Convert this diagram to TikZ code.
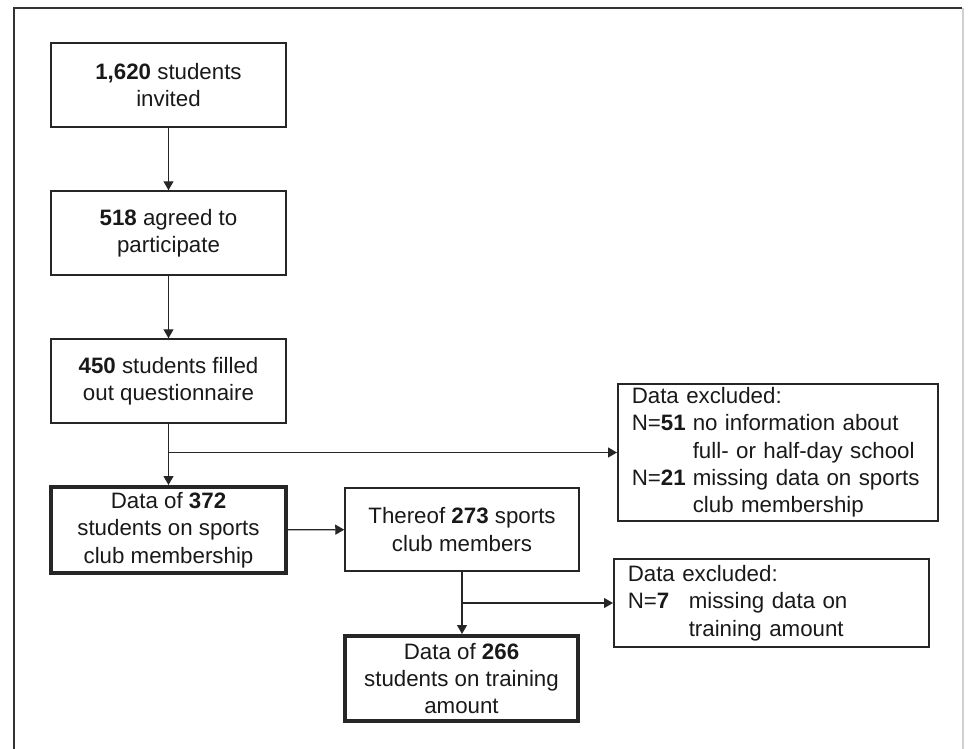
\documentclass[tikz,border=0pt]{standalone}
\usepackage{fontspec}
\setmainfont{Liberation Sans}
\usetikzlibrary{arrows.meta}
\definecolor{framegray}{HTML}{333333}
\definecolor{edgegray}{HTML}{D0D0D0}
\newcommand{\ncol}[1]{\makebox[61pt][l]{#1}}
\begin{document}
\begin{tikzpicture}[
	x=1pt, y=-1pt,
	every node/.style={font=\fontsize{22.3}{27.3}\selectfont, inner sep=0pt, text=black!90},
	stage/.style={rectangle, draw=black!85, line width=1.5pt, align=center, minimum width=235pt, minimum height=84pt},
	result/.style={stage, line width=4pt, minimum height=86pt},
	excluded/.style={rectangle, draw=black!85, line width=1.5pt, align=left, inner xsep=14pt, anchor=west},
	flow/.style={draw=black!85, line width=1.2pt, -{Triangle[length=9pt,width=10pt]}},
]
\useasboundingbox (0,0) rectangle (972,749);
\draw [framegray, line width=2pt] (14,760) -- (14,8) -- (962,8);
\draw [edgegray, line width=1.5pt] (963,8) -- (963,760);

\node [stage] (invited) at (168.5,85) {\textbf{1,620} students\\invited};
\node [stage] (agreed) at (168.5,233) {\textbf{518} agreed to\\participate};
\node [stage] (filled) at (168.5,381) {\textbf{450} students filled\\out questionnaire};
\node [result] (membership) at (168.5,530) {Data of \textbf{372}\\students on sports\\club membership};
\node [stage, minimum width=234pt, minimum height=83pt] (members) at (462,529.5) {Thereof \textbf{273} sports\\club members};
\node [result, minimum width=233pt, minimum height=85pt] (training) at (461.5,678.5) {Data of \textbf{266}\\students on training\\amount};

\node [excluded, text width=292pt, minimum height=137pt] (exclA) at (617,452.5) {Data excluded:\\
	\ncol{N=\textbf{51}}no information about\\
	\ncol{}full- or half-day school\\
	\ncol{N=\textbf{21}}missing data on sports\\
	\ncol{}club membership};
\node [excluded, text width=287pt, minimum height=88pt] (exclB) at (613,603) {Data excluded:\\
	\ncol{N=\textbf{7}}missing data on\\
	\ncol{}training amount};

\draw [flow] (invited) -- (agreed);
\draw [flow] (agreed) -- (filled);
\draw [flow] (filled) -- (membership);
\draw [flow] (filled.south |- exclA.west) -- (exclA.west);
\draw [flow] (membership) -- (members);
\draw [flow] (members.south) -- (members.south |- training.north);
\draw [flow] (members.south |- exclB.west) -- (exclB.west);
\end{tikzpicture}
\end{document}
